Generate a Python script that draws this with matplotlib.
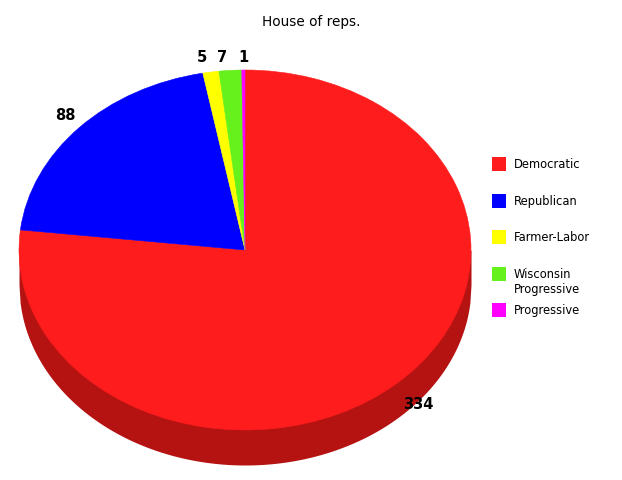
import numpy as np
import matplotlib.pyplot as plt
from matplotlib.patches import Rectangle

# data
parties = ['Democratic', 'Republican', 'Farmer-Labor', 'Wisconsin\nProgressive', 'Progressive']
seats = [334, 88, 5, 7, 1]
colors = ['#ff1c1c', '#0000ff', '#ffff00', '#66f01c', '#ff00ff']
side_color = '#b51212'

W, H = 622, 480
cx, cy = 245, 250      # pie centre in px (from top)
rx, ry = 226, 180      # ellipse radii in px
depth = 35             # thickness of the pie in px

fig = plt.figure(figsize=(W / 100, H / 100), dpi=100)
ax = fig.add_axes([0, 0, 1, 1])

# side wall of the tilted pie
d = depth / ry
xs = np.linspace(-1, 1, 400)
ax.fill_between(xs, -np.sqrt(1 - xs**2) - d, 0, color=side_color, lw=0, zorder=1)

wedges, texts = ax.pie(seats, labels=[str(s) for s in seats], colors=colors,
                       startangle=90, counterclock=False, radius=1,
                       labeldistance=1.13,
                       wedgeprops=dict(linewidth=0.4, zorder=2),
                       textprops=dict(fontsize=10.5, fontweight='bold', color='black'))
for w in wedges:
    w.set_edgecolor(w.get_facecolor())
for t in texts:
    t.set_ha('center')
    t.set_va('center')
    t.set_zorder(5)

# small nudges of the labels (px)
nudges = [(3, 3), (8, 4), (-4, 0), (-6, 0), (0, 0)]
for i, (t, (dx, dy)) in enumerate(zip(texts, nudges)):
    x, y = t.get_position()
    if i >= 2:
        y = 1.07   # the three thin slices share one row
    t.set_position((x + dx / rx, y - dy / ry))

# squash the pie into an ellipse
ax.set_aspect('auto')
ax.set_xlim(-cx / rx, (W - cx) / rx)
ax.set_ylim(-(H - cy) / ry, cy / ry)
ax.axis('off')

fig.text(311 / W, 1 - 22 / H, 'House of reps.', ha='center', va='center', fontsize=9.8)

# legend drawn by hand
lx, ly0, step, sq = 492, 164, 36.5, 14
for i, (name, c) in enumerate(zip(parties, colors)):
    y = ly0 + step * i
    fig.patches.append(Rectangle((lx / W, 1 - (y + sq / 2) / H), sq / W, sq / H,
                                 transform=fig.transFigure, facecolor=c, edgecolor='none'))
    fig.text(514 / W, 1 - (y - 6) / H, name, ha='left', va='top', fontsize=8.3,
             linespacing=1.3)

fig.savefig('out.png', dpi=100, facecolor='white')
